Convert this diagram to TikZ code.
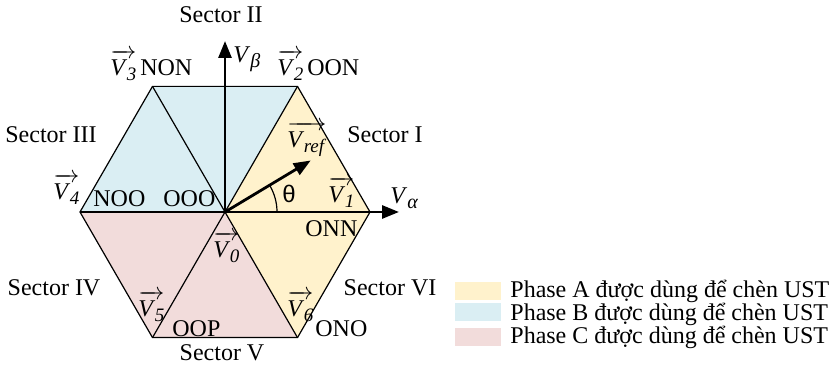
\documentclass[tikz,border=0pt]{standalone}
\usepackage{fontspec}
\setmainfont{Liberation Serif}
\newfontfamily\thetafont{Liberation Sans}
\usepackage{tikz}
\usetikzlibrary{arrows.meta, calc}
\definecolor{phaseA}{RGB}{255,242,204}
\definecolor{phaseB}{RGB}{218,238,243}
\definecolor{phaseC}{RGB}{242,220,219}
\newcommand{\vecV}[1]{$\overrightarrow{\hbox{\rule{0pt}{0.82em}\textit{V}\kern-0.3pt\raisebox{-0.45ex}{\fontsize{9.5}{10}\selectfont\textit{#1}}}}$}
\newcommand{\subV}[1]{\textit{V}\raisebox{-0.45ex}{\fontsize{10}{10}\selectfont\textit{#1}}}
\tikzset{
    lbl/.style={font=\fontsize{12}{14}\selectfont, inner sep=0pt},
    seclbl/.style={lbl, anchor=base},
    vlbl/.style={lbl, anchor=base west},
    hexedge/.style={draw=black, line width=0.6pt},
    axisarrow/.style={line width=1.4pt, -{Triangle[length=8.5pt, width=6.5pt]}},
    swatch/.style={minimum width=23pt, minimum height=9pt, inner sep=0pt},
}
\begin{document}
\begin{tikzpicture}[x=0.5pt, y=-0.5pt]
    \useasboundingbox (0,0) rectangle (835,367);

    % Hexagon corners
    \coordinate (O) at (225,212);
    \coordinate (R) at (370,212);
    \coordinate (TR) at (297.5,86.4);
    \coordinate (TL) at (152.5,86.4);
    \coordinate (L) at (80,212);
    \coordinate (BL) at (152.5,337.6);
    \coordinate (BR) at (297.5,337.6);

    % Sector fills
    \fill[phaseA] (O) -- (R) -- (TR) -- cycle;
    \fill[phaseB] (O) -- (TR) -- (TL) -- cycle;
    \fill[phaseB] (O) -- (TL) -- (L) -- cycle;
    \fill[phaseC] (O) -- (L) -- (BL) -- cycle;
    \fill[phaseC] (O) -- (BL) -- (BR) -- cycle;
    \fill[phaseA] (O) -- (BR) -- (R) -- cycle;

    % Outline and spokes
    \draw[hexedge] (R) -- (TR) -- (TL) -- (L) -- (BL) -- (BR) -- cycle;
    \foreach \v in {R, TR, TL, L, BL, BR}
        \draw[hexedge] (O) -- (\v);

    % Axes and reference vector
    \coordinate (Aend) at (399,212);
    \coordinate (Bend) at (225,41);
    \coordinate (Vref) at ($(O)+(31:50pt)$);
    \draw[axisarrow] (O) -- (Aend);
    \draw[axisarrow] (O) -- (Bend);
    \draw[axisarrow] (O) -- (Vref);
    \draw[line width=0.6pt] ($(O)+(26pt,0)$) arc[start angle=0, end angle=31, radius=26pt];

    % Sector names
    \node[seclbl] (s1) at (385,143) {Sector I};
    \node[seclbl] (s2) at (221,23) {Sector II};
    \node[seclbl] (s3) at (51,143) {Sector III};
    \node[seclbl] (s4) at (54,296) {Sector IV};
    \node[seclbl] (s5) at (222,361) {Sector V};
    \node[seclbl] (s6) at (390,296) {Sector VI};

    % Vectors and states
    \node[vlbl] (v3) at (110,76) {\vecV{3}\,NON};
    \node[vlbl] (v2) at (277,76) {\vecV{2}\,OON};
    \node[vlbl] (vb) at (233,63) {\subV{β}};
    \node[vlbl] (vr) at (287,148) {\vecV{ref}};
    \node[vlbl] (v4) at (53,200) {\vecV{4}};
    \node[vlbl] (noo) at (93,207) {NOO};
    \node[vlbl] (ooo) at (163,207) {OOO};
    \node[lbl, anchor=base] (th) at (289,203) {\thetafont θ};
    \node[vlbl] (v1) at (328,203) {\vecV{1}};
    \node[vlbl] (va) at (390,204) {\subV{α}};
    \node[vlbl] (onn) at (305,237) {ONN};
    \node[vlbl] (v0) at (213,258) {\vecV{0}};
    \node[vlbl] (v5) at (138,317) {\vecV{5}};
    \node[vlbl] (oop) at (172,337) {OOP};
    \node[vlbl] (v6) at (287,317) {\vecV{6}};
    \node[vlbl] (ono) at (315,337) {ONO};

    % Legend
    \node[swatch, fill=phaseA] (swA) at (478,291) {};
    \node[swatch, fill=phaseB] (swB) at (478,312.5) {};
    \node[swatch, fill=phaseC] (swC) at (478,337.5) {};
    \node[vlbl] (txtA) at (510,298) {Phase A được dùng để chèn UST};
    \node[vlbl] (txtB) at (510,321) {Phase B được dùng để chèn UST};
    \node[vlbl] (txtC) at (510,344) {Phase C được dùng để chèn UST};
\end{tikzpicture}
\end{document}
